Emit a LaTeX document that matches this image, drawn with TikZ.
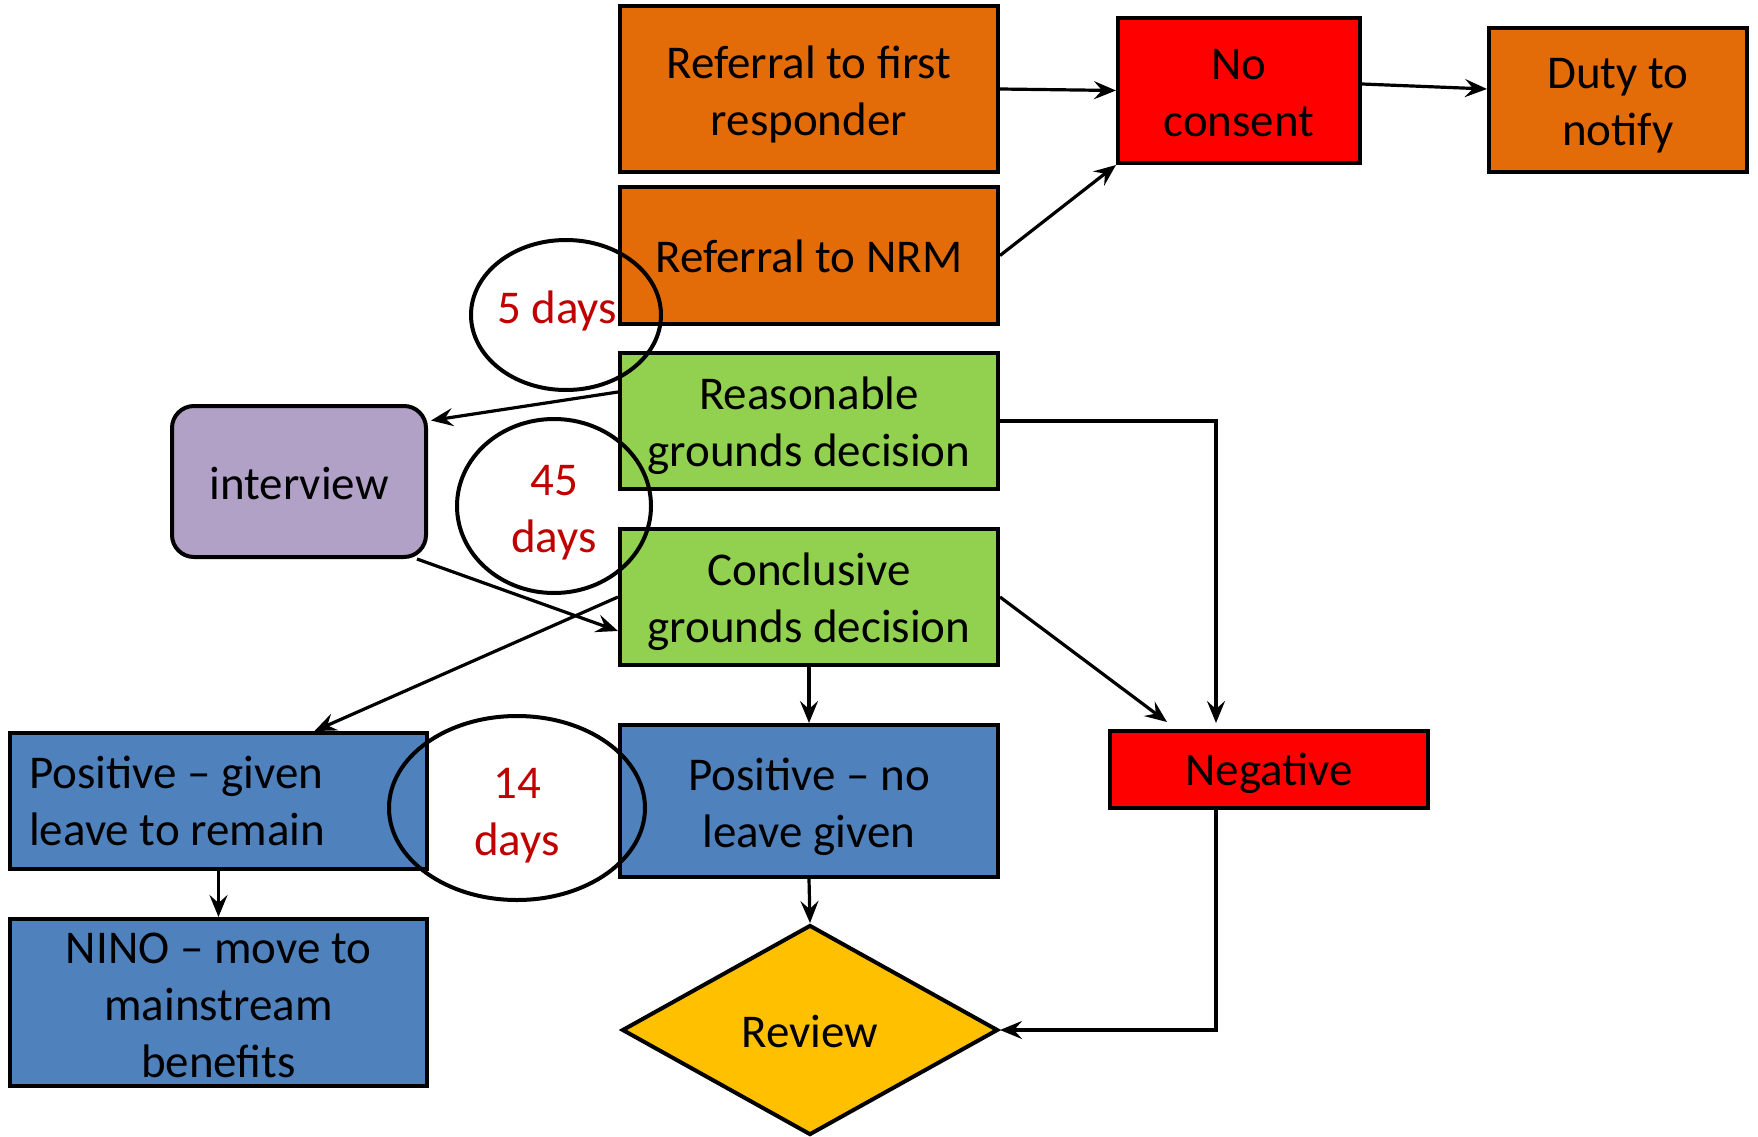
\documentclass[tikz,border=0pt]{standalone}
\usepackage{fontspec}
\setmainfont{Carlito}
\usetikzlibrary{shapes.geometric,arrows.meta,calc}
\definecolor{orng}{HTML}{E36C09}
\definecolor{rd}{HTML}{FF0000}
\definecolor{grn}{HTML}{92D050}
\definecolor{blu}{HTML}{4F81BD}
\definecolor{purp}{HTML}{B2A1C7}
\definecolor{gold}{HTML}{FFC000}
\definecolor{dred}{HTML}{C00000}
\begin{document}
\begin{tikzpicture}[x=1pt,y=-1pt,
  every node/.style={font=\fontsize{47}{57}\selectfont},
  box/.style={draw=black,line width=4pt,rectangle,inner sep=0pt},
  txt/.style={inner sep=0pt,align=center},
  conn/.style={draw=black,line width=3.2pt,-{Stealth[length=22pt,width=18pt,inset=8pt]}},
  oval/.style={draw=black,line width=4pt,ellipse,inner sep=0pt},
  days/.style={inner sep=0pt,align=center,text=dred}]
\useasboundingbox (0,0) rectangle (1758,1137);
% boxes
\node[box,fill=orng,minimum width=378pt,minimum height=166pt] (ref1) at (809,89) {};
\node[box,fill=rd,minimum width=242pt,minimum height=145pt] (nocons) at (1239,90.5) {};
\node[box,fill=orng,minimum width=258pt,minimum height=144pt] (duty) at (1618,100) {};
\node[box,fill=orng,minimum width=378pt,minimum height=137pt] (nrm) at (809,255.5) {};
\node[box,fill=grn,minimum width=378pt,minimum height=136pt] (rgd) at (809,421) {};
\node[box,fill=grn,minimum width=378pt,minimum height=136pt] (cgd) at (809,597) {};
\node[box,fill=purp,rounded corners=22pt,minimum width=254pt,minimum height=151pt] (intv) at (299,481.5) {};
\node[box,fill=blu,minimum width=417pt,minimum height=136pt] (posg) at (218.5,801) {};
\node[box,fill=blu,minimum width=417pt,minimum height=167pt] (nino) at (218.5,1002.5) {};
\node[box,fill=blu,minimum width=378pt,minimum height=152pt] (posno) at (809,801) {};
\node[box,fill=rd,minimum width=318pt,minimum height=77pt] (neg) at (1269,769.5) {};
\node[box,diamond,fill=gold,minimum width=376pt,minimum height=210pt] (rev) at (810,1030) {};
% texts
\node[txt] (ref1t) at ([yshift=-5pt]ref1.center) {Referral to first\\responder};
\node[txt] (noconst) at ([yshift=-3pt]nocons.center) {No\\consent};
\node[txt] (dutyt) at ([yshift=-6pt]duty.center) {Duty to\\notify};
\node[txt] (nrmt) at ([yshift=-1pt]nrm.center) {Referral to NRM};
\node[txt] (rgdt) at ([yshift=-5pt]rgd.center) {Reasonable\\grounds decision};
\node[txt] (cgdt) at ([yshift=-5pt]cgd.center) {Conclusive\\grounds decision};
\node[txt] (intvt) at ([yshift=-2pt]intv.center) {interview};
\node[txt,align=flush left,anchor=west] (posgt) at ([xshift=21pt]posg.west) {Positive -- given\\leave to remain};
\node[txt] (ninot) at ([yshift=-3pt]nino.center) {NINO -- move to\\mainstream\\benefits};
\node[txt] (posnot) at ([yshift=-6pt]posno.center) {Positive -- no\\leave given};
\node[txt] (negt) at ([yshift=-4pt]neg.center) {Negative};
\node[txt] (revt) at ([yshift=-1pt]rev.center) {Review};
% connectors
\draw[conn] (ref1.east) -- (nocons.west);
\draw[conn] ([yshift=6.5pt]nocons.east) -- ([yshift=11pt]duty.west);
\draw[conn] (nrm.east) -- (nocons.south west);
\draw[conn] ([yshift=29pt]rgd.west) -- ([xshift=3pt,yshift=61pt]intv.east);
\draw[conn] ([xshift=-11pt]intv.south east) -- ([yshift=-34pt]cgd.west);
\draw[conn] (rgd.east) -| ([xshift=-53pt,yshift=6pt]neg.north);
\draw[conn] (cgd.east) -- ([xshift=59pt,yshift=7pt]neg.north west);
\draw[conn] (cgd.west) -- ([xshift=96pt]posg.north);
\draw[conn] (cgd.south) -- (posno.north);
\draw[conn] (posg.south) -- (nino.north);
\draw[conn] (posno.south) -- (rev.north);
\draw[conn] ([xshift=-53pt]neg.south) |- (rev.east);
% time ovals
\node[oval,minimum width=190pt,minimum height=150pt] (e5) at (566,315) {};
\node[oval,minimum width=194pt,minimum height=174pt] (e45) at (554,506) {};
\node[oval,minimum width=256pt,minimum height=184pt] (e14) at (517,808) {};
\node[days] (e5t) at (557,311) {5 days};
\node[days] (e45t) at ([yshift=-7pt]e45.center) {45\\days};
\node[days] (e14t) at ([yshift=-8pt]e14.center) {14\\days};
\end{tikzpicture}
\end{document}
